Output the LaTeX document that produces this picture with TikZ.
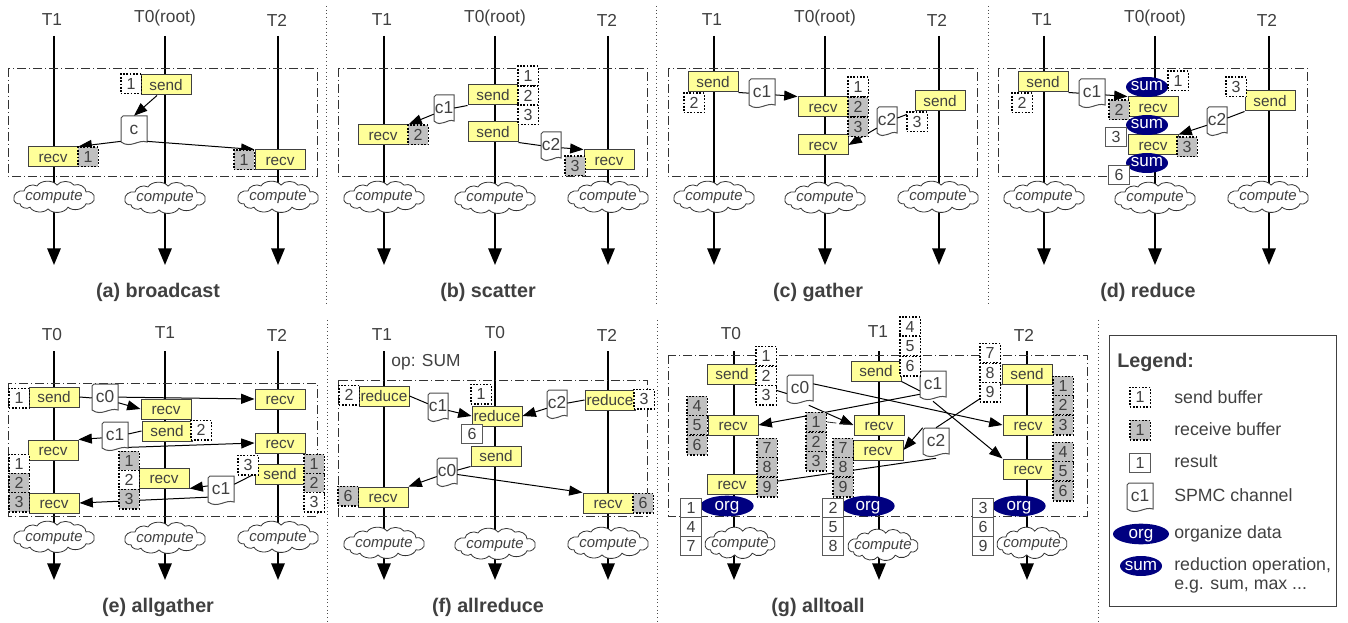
\documentclass[tikz,border=0pt]{standalone}
\usepackage{fontspec}
\setmainfont{Liberation Sans}
\usetikzlibrary{arrows.meta,shapes.geometric}

\definecolor{inkgray}{HTML}{404040}
\definecolor{boxyellow}{HTML}{FFFF99}
\definecolor{buffergray}{HTML}{C0C0C0}
\definecolor{opnavy}{HTML}{000080}

\tikzset{
  thread/.style={line width=1.5pt, black, -{Triangle[length=12.5pt,width=10pt]}},
  threadlabel/.style={inner sep=0, text=inkgray, font=\fontsize{13}{15}\selectfont},
  cloudline/.style={draw=black!80, fill=white, line width=0.6pt, yscale=0.85},
  cloudtext/.style={inner sep=0, text=inkgray, text height=8pt, text depth=2pt,
    font=\fontsize{11.2}{13}\selectfont\itshape},
  syncframe/.style={line width=0.6pt, black!80, dash pattern=on 7pt off 2pt on 1pt off 2pt},
  sepline/.style={line width=0.75pt, black!70, dotted},
  opbox/.style={draw=black!75, fill=boxyellow, line width=0.75pt, inner sep=0, minimum width=37.5pt,
    minimum height=15pt, text=inkgray, text height=8.2pt, text depth=0pt, font=\fontsize{11.5}{13}\selectfont},
  sendbuf/.style={draw=black, fill=white, dash pattern=on 1.25pt off 1.25pt, line width=1.25pt, inner sep=0,
    minimum width=15.5pt, minimum height=14.5pt, text=inkgray, text height=8.6pt, text depth=0pt,
    font=\fontsize{12}{14}\selectfont},
  recvbuf/.style={sendbuf, fill=buffergray},
  resbuf/.style={sendbuf, solid, draw=black!65, line width=0.75pt},
  chanline/.style={draw=black!70, fill=white, line width=0.75pt},
  chantext/.style={inner sep=0, text=inkgray, font=\fontsize{13}{14}\selectfont},
  sumop/.style={ellipse, fill=opnavy, inner sep=-3pt, minimum width=31.5pt, minimum height=15pt, text=white,
    text height=6pt, text depth=0pt, font=\fontsize{12.8}{14}\selectfont},
  orgop/.style={sumop, minimum width=40pt, minimum height=15.5pt},
  msg/.style={line width=0.75pt, black},
  msgto/.style={msg, -{Triangle[length=10pt,width=7.5pt]}},
  caption/.style={inner sep=0, text=inkgray, font=\fontsize{14.8}{17}\selectfont\bfseries},
  legendtext/.style={anchor=west, inner sep=0, text=inkgray, font=\fontsize{13.3}{16}\selectfont}
}

% id, x, label x, label, label y, top, bottom, cloud x, cloud y
\newcommand{\threadline}[9]{%
  \node[threadlabel] (#1label) at (#3,#5) {#4};
  \coordinate (#1top) at (#2,#6);
  \coordinate (#1end) at (#2,#7);
  \draw[thread] (#1top) -- (#1end);
  \draw[shift={(#8,#9)}, cloudline] (-40,2) to[bend left=65] (-30,-7) to[bend left=60] (-17,-13)
    to[bend left=60] (3,-14) to[bend left=60] (20,-14) to[bend left=60] (32,-6) to[bend left=70] (40,1)
    to[bend left=70] (32,8) to[bend left=60] (14,12) to[bend left=60] (-6,14) to[bend left=60] (-24,12)
    to[bend left=70] (-34,8) to[bend left=60] cycle;
  \node[cloudtext] (#1cloud) at (#8,#9) {compute};
}

% name, x, y, width, height, text
\newcommand{\chanbox}[6]{%
  \draw[chanline] (#2-#4/2,#3-#5/2+2) -- (#2-#4/2+2,#3-#5/2) -- (#2+#4/2,#3-#5/2) -- (#2+#4/2,#3+#5/2-4)
    .. controls (#2+#4/6,#3+#5/2-7) and (#2-#4/8,#3+#5/2+3) .. (#2-#4/2,#3+#5/2-4) -- cycle;
  \node[chantext, minimum width=0.75pt*#4, minimum height=0.75pt*#5] (#1) at (#2,#3) {\raisebox{-2.8pt}[0pt][0pt]{#6}};
}

\begin{document}
\begin{tikzpicture}[x=0.75pt, y=-0.75pt]
  \useasboundingbox (0,0) rectangle (1348,623);

  % --- separators ---
  \draw[sepline] (326,6) -- (326,306);
  \draw[sepline] (656,6) -- (656,306);
  \draw[sepline] (988,6) -- (988,306);
  \draw[sepline] (327,320) -- (327,622);
  \draw[sepline] (657,320) -- (657,622);
  \draw[sepline] (1098,320) -- (1098,622);

  % --- broadcast ---
  \begin{scope}
    \threadline{a1}{54}{52}{T1}{20}{36}{265}{54}{197}
    \threadline{a0}{165}{165}{T0(root)}{18}{36}{265}{165}{198}
    \threadline{a2}{278}{277}{T2}{20}{36}{265}{278}{197}
    \draw[syncframe] (8,68) rectangle (317,176);
    \node[opbox] (asend) at (166,85) {send};
    \node[opbox] (arecv1) at (53,157) {recv};
    \node[opbox] (arecv2) at (280,160) {recv};
    \chanbox{achan}{134}{131}{26}{30}{c}
    \draw[msgto] ([xshift=-6.75pt]asend.south) -- (achan.north);
    \draw[msgto] (achan.218) -- (arecv1.north east);
    \draw[msgto] (achan.-38) -- (arecv2.north west);
    \node[sendbuf] (abuf0) at (131,84) {1};
    \node[recvbuf] (abuf1) at (88,157) {1};
    \node[recvbuf] (abuf2) at (244,160) {1};
    \node[caption] (acap) at (158,292) {(a) broadcast};
  \end{scope}

  % --- scatter ---
  \begin{scope}[shift={(330,0)}]
    \threadline{b1}{54}{52}{T1}{20}{36}{265}{54}{197}
    \threadline{b0}{165}{165}{T0(root)}{18}{36}{265}{165}{198}
    \threadline{b2}{278}{277}{T2}{20}{36}{265}{278}{197}
    \draw[syncframe] (8,68) rectangle (317,176);
    \node[opbox] (bsend1) at (163,95) {send};
    \node[opbox] (bsend2) at (163,132) {send};
    \node[opbox] (brecv1) at (53,135) {recv};
    \node[opbox] (brecv2) at (279,160) {recv};
    \chanbox{bchan1}{114}{110}{20}{30}{c1}
    \chanbox{bchan2}{221}{147}{20}{30}{c2}
    \draw[msg] (bsend1.south west) -- (bchan1);
    \draw[msgto] (bchan1) -- (brecv1.north east);
    \draw[msg] (bsend2.south east) -- (bchan2);
    \draw[msgto] (bchan2) -- (brecv2.north west);
    \node[sendbuf] (bbuf1) at (198,76) {1};
    \node[sendbuf] (bbuf2) at (198,96) {2};
    \node[sendbuf] (bbuf3) at (198,115) {3};
    \node[recvbuf] (bbuf4) at (88,135) {2};
    \node[recvbuf] (bbuf5) at (245,166) {3};
    \node[caption] (bcap) at (158,292) {(b) scatter};
  \end{scope}

  % --- gather ---
  \begin{scope}[shift={(660,0)}]
    \threadline{c1}{54}{52}{T1}{20}{36}{265}{54}{197}
    \threadline{c0}{165}{165}{T0(root)}{18}{36}{265}{165}{198}
    \threadline{c2}{279}{277}{T2}{20}{36}{265}{278}{197}
    \draw[syncframe] (8,68) rectangle (317,176);
    \node[opbox] (csend1) at (53,82) {send};
    \node[opbox] (csend2) at (280,101) {send};
    \node[opbox] (crecv1) at (163,107) {recv};
    \node[opbox] (crecv2) at (163,145) {recv};
    \chanbox{cchan1}{102}{94}{26}{30}{c1}
    \chanbox{cchan2}{227}{122}{20}{30}{c2}
    \draw[msg] (csend1.south east) -- (cchan1);
    \draw[msgto] (cchan1) -- (crecv1.north west);
    \draw[msg] (csend2.south west) -- (cchan2);
    \draw[msgto] (cchan2) -- (crecv2.east);
    \node[sendbuf] (cbuf1) at (34,103) {2};
    \node[sendbuf] (cbuf2) at (198,87) {1};
    \node[recvbuf] (cbuf3) at (198,107) {2};
    \node[recvbuf] (cbuf4) at (198,127) {3};
    \node[sendbuf] (cbuf5) at (257,122) {3};
    \node[caption] (ccap) at (158,292) {(c) gather};
  \end{scope}

  % --- reduce ---
  \begin{scope}[shift={(990,0)}]
    \threadline{d1}{54}{52}{T1}{20}{36}{265}{54}{197}
    \threadline{d0}{165}{165}{T0(root)}{18}{36}{265}{165}{198}
    \threadline{d2}{279}{277}{T2}{20}{36}{265}{278}{197}
    \draw[syncframe] (8,68) rectangle (317,176);
    \node[opbox] (dsend1) at (53,82) {send};
    \node[opbox] (dsend2) at (280,101) {send};
    \node[opbox] (drecv1) at (163,107) {recv};
    \node[opbox] (drecv2) at (163,145) {recv};
    \node[sumop] (dsum1) at (157,87) {sum};
    \node[sumop] (dsum2) at (157,125) {sum};
    \node[sumop] (dsum3) at (157,163) {sum};
    \chanbox{dchan1}{102}{94}{26}{30}{c1}
    \chanbox{dchan2}{227}{122}{20}{30}{c2}
    \draw[msg] (dsend1.south east) -- (dchan1);
    \draw[msgto] (dchan1) -- (drecv1.north west);
    \draw[msg] (dsend2.south west) -- (dchan2);
    \draw[msgto] (dchan2) -- (drecv2.north east);
    \node[sendbuf] (dbuf1) at (32,103) {2};
    \node[sendbuf] (dbuf2) at (188,81) {1};
    \node[sendbuf] (dbuf3) at (246,87) {3};
    \node[recvbuf] (dbuf4) at (129,110) {2};
    \node[recvbuf] (dbuf5) at (197,147) {3};
    \node[resbuf] (dres1) at (126,137) {3};
    \node[resbuf] (dres2) at (129,175) {6};
    \node[caption] (dcap) at (158,292) {(d) reduce};
  \end{scope}

  % --- allgather ---
  \begin{scope}[shift={(0,310)}]
    \threadline{e0}{54}{52}{T0}{25}{41}{270}{54}{227}
    \threadline{e1}{165}{165}{T1}{23}{41}{270}{165}{228}
    \threadline{e2}{278}{277}{T2}{25}{41}{270}{278}{227}
    \draw[syncframe] (8,73) rectangle (317,206);
    \node[opbox] (esend0) at (54,87) {send};
    \node[opbox] (esend1) at (167,121) {send};
    \node[opbox] (esend2) at (280,164) {send};
    \node[opbox] (erecv0a) at (53,140) {recv};
    \node[opbox] (erecv0b) at (54,193) {recv};
    \node[opbox] (erecv1a) at (166,99) {recv};
    \node[opbox] (erecv1b) at (164,168) {recv};
    \node[opbox] (erecv2a) at (280,89) {recv};
    \node[opbox] (erecv2b) at (280,133) {recv};
    \chanbox{echan0}{105}{89}{26}{30}{c0}
    \chanbox{echan1}{115}{127}{26}{30}{c1}
    \chanbox{echan2}{221}{181}{26}{30}{c1}
    \draw[msg] (esend0.east) -- (echan0);
    \draw[msgto] (echan0) -- (erecv1a.west);
    \draw[msgto] (echan0.8) -- (erecv2a.west);
    \draw[msg] (esend1.west) -- (echan1);
    \draw[msgto] (echan1) -- (erecv0a.north east);
    \draw[msgto] (echan1.-38) -- (erecv2b.west);
    \draw[msg] (esend2.west) -- (echan2);
    \draw[msgto] (echan2.159) -- (erecv1b.south east);
    \draw[msgto] (echan2.205) -- (erecv0b.east);
    \node[sendbuf] (ebuf0) at (19,88) {1};
    \node[sendbuf] (ebuf1) at (19,154) {1};
    \node[recvbuf] (ebuf2) at (19,173) {2};
    \node[recvbuf] (ebuf3) at (19,192) {3};
    \node[recvbuf] (ebuf4) at (129,151) {1};
    \node[sendbuf] (ebuf5) at (129,170) {2};
    \node[recvbuf] (ebuf6) at (129,189) {3};
    \node[sendbuf] (ebuf7) at (201,120) {2};
    \node[sendbuf] (ebuf8) at (248,155) {3};
    \node[recvbuf] (ebuf9) at (314,154) {1};
    \node[recvbuf] (ebuf10) at (314,173) {2};
    \node[sendbuf] (ebuf11) at (314,192) {3};
    \node[caption] (ecap) at (158,297) {(e) allgather};
  \end{scope}

  % --- allreduce ---
  \begin{scope}[shift={(330,310)}]
    \threadline{f1}{54}{52}{T1}{25}{41}{270}{54}{233}
    \threadline{f0}{165}{165}{T0}{23}{41}{270}{165}{234}
    \threadline{f2}{278}{277}{T2}{25}{41}{270}{278}{233}
    \node[threadlabel] (fop) at (96,52) {op: SUM};
    \draw[syncframe] (8,70) rectangle (317,206);
    \node[opbox] (freduce1) at (54,86) {reduce};
    \node[opbox] (freduce0) at (167,106) {reduce};
    \node[opbox] (freduce2) at (280,90) {reduce};
    \node[opbox] (fsend) at (166,146) {send};
    \node[opbox] (frecv1) at (53,187) {recv};
    \node[opbox] (frecv2) at (278,193) {recv};
    \chanbox{fchan1}{108}{98}{20}{30}{c1}
    \chanbox{fchan2}{227}{95}{20}{30}{c2}
    \chanbox{fchan0}{117}{163}{20}{30}{c0}
    \draw[msg] (freduce1.east) -- (fchan1);
    \draw[msgto] (fchan1) -- (freduce0.west);
    \draw[msg] (freduce2.west) -- (fchan2);
    \draw[msgto] (fchan2) -- (freduce0.east);
    \draw[msg] (fsend.south west) -- (fchan0);
    \draw[msgto] (fchan0) -- (frecv1.north east);
    \draw[msgto] (fchan0) -- (frecv2.north west);
    \node[sendbuf] (fbuf1) at (19,85) {2};
    \node[sendbuf] (fbuf2) at (151,84) {1};
    \node[sendbuf] (fbuf3) at (314,89) {3};
    \node[recvbuf] (fbuf4) at (18,186) {6};
    \node[recvbuf] (fbuf5) at (313,193) {6};
    \node[resbuf] (fres) at (142,124) {6};
    \node[caption] (fcap) at (158,297) {(f) allreduce};
  \end{scope}

  % --- alltoall ---
  \begin{scope}[shift={(660,310)}, cloudline/.append style={xscale=0.87}]
    \threadline{g0}{74}{71}{T0}{24}{41}{270}{80}{233}
    \threadline{g1}{219}{218}{T1}{22}{41}{270}{223}{235}
    \threadline{g2}{367}{364}{T2}{25}{41}{270}{372}{233}
    \draw[syncframe] (8,45) rectangle (427,206);
    \node[opbox] (gsend0) at (72,64) {send};
    \node[opbox] (gsend1) at (216,61) {send};
    \node[opbox] (gsend2) at (367,64) {send};
    \node[opbox] (grecv0a) at (73,115) {recv};
    \node[opbox] (grecv0b) at (72,174) {recv};
    \node[opbox] (grecv1a) at (219,115) {recv};
    \node[opbox] (grecv1b) at (218,140) {recv};
    \node[opbox] (grecv2a) at (368,115) {recv};
    \node[opbox] (grecv2b) at (368,159) {recv};
    \chanbox{gchan0}{140}{80}{26}{30}{c0}
    \chanbox{gchan1}{273}{76}{26}{30}{c1}
    \chanbox{gchan2}{276}{133}{26}{30}{c2}
    \draw[msg] (gsend0.south east) -- (gchan0.195);
    \draw[msgto] (gchan0.-60) -- (grecv1a.west);
    \draw[msgto] (gchan0.25) -- (grecv2a.west);
    \draw[msg] (gsend1.south east) -- (gchan1.200);
    \draw[msgto] (gchan1.212) -- (grecv0a.east);
    \draw[msgto] (gchan1.south) -- (grecv2b.north west);
    \draw[msg] (gsend2.south west) -- (gchan2.north);
    \draw[msgto] (gchan2.north west) -- (grecv1b.east);
    \draw[msgto] (gchan2.south) -- (grecv0b.east);
    \node[sendbuf] (gbuf1) at (106,46) {1};
    \node[sendbuf] (gbuf2) at (106,66) {2};
    \node[sendbuf] (gbuf3) at (106,85) {3};
    \node[recvbuf] (gbuf4) at (37,96) {4};
    \node[recvbuf] (gbuf5) at (37,115) {5};
    \node[recvbuf] (gbuf6) at (37,135) {6};
    \node[recvbuf] (gbuf7) at (107,138) {7};
    \node[recvbuf] (gbuf8) at (107,157) {8};
    \node[recvbuf] (gbuf9) at (107,177) {9};
    \node[sendbuf] (gbuf10) at (250,17) {4};
    \node[sendbuf] (gbuf11) at (250,36) {5};
    \node[sendbuf] (gbuf12) at (250,56) {6};
    \node[recvbuf] (gbuf13) at (156,112) {1};
    \node[recvbuf] (gbuf14) at (156,132) {2};
    \node[recvbuf] (gbuf15) at (156,151) {3};
    \node[recvbuf] (gbuf16) at (183,138) {7};
    \node[recvbuf] (gbuf17) at (183,157) {8};
    \node[recvbuf] (gbuf18) at (183,177) {9};
    \node[sendbuf] (gbuf19) at (330,43) {7};
    \node[sendbuf] (gbuf20) at (330,63) {8};
    \node[sendbuf] (gbuf21) at (330,82) {9};
    \node[recvbuf] (gbuf22) at (403,76) {1};
    \node[recvbuf] (gbuf23) at (403,95) {2};
    \node[recvbuf] (gbuf24) at (403,115) {3};
    \node[recvbuf] (gbuf25) at (403,142) {4};
    \node[recvbuf] (gbuf26) at (403,161) {5};
    \node[recvbuf] (gbuf27) at (403,181) {6};
    \draw[syncframe] (gbuf13.east) -- (grecv1a.west);
    \node[orgop] (gorg0) at (67,196) {org};
    \node[orgop] (gorg1) at (208,196) {org};
    \node[orgop] (gorg2) at (359,196) {org};
    \node[resbuf] (gres1) at (31,198) {1};
    \node[resbuf] (gres2) at (31,217) {4};
    \node[resbuf] (gres3) at (31,236) {7};
    \node[resbuf] (gres4) at (173,198) {2};
    \node[resbuf] (gres5) at (173,217) {5};
    \node[resbuf] (gres6) at (173,236) {8};
    \node[resbuf] (gres7) at (323,198) {3};
    \node[resbuf] (gres8) at (323,217) {6};
    \node[resbuf] (gres9) at (323,236) {9};
    \node[caption] (gcap) at (158,297) {(g) alltoall};
  \end{scope}

  % --- legend ---
  \draw[line width=0.75pt, black!75] (1109,336) rectangle (1336,606);
  \node[caption, anchor=west] (legtitle) at (1117,362) {Legend:};
  \node[sendbuf] (legsend) at (1140,397) {1};
  \node[legendtext] (legsendtext) at (1174,397) {send buffer};
  \node[recvbuf] (legrecv) at (1140,430) {1};
  \node[legendtext] (legrecvtext) at (1174,429) {receive buffer};
  \node[resbuf] (legres) at (1140,463) {1};
  \node[legendtext] (legrestext) at (1174,461) {result};
  \chanbox{legchan}{1140}{498}{26}{30}{c1}
  \node[legendtext] (legchantext) at (1174,495) {SPMC channel};
  \node[orgop, minimum width=42pt] (legorg) at (1141,534) {org};
  \node[legendtext] (legorgtext) at (1174,534) {organize data};
  \node[sumop] (legsum) at (1141,566) {sum};
  \node[legendtext] (legsumtext) at (1174,566) {reduction operation,};
  \node[legendtext] (legsumtext2) at (1174,587) {e.g. sum, max ...};

\end{tikzpicture}
\end{document}
